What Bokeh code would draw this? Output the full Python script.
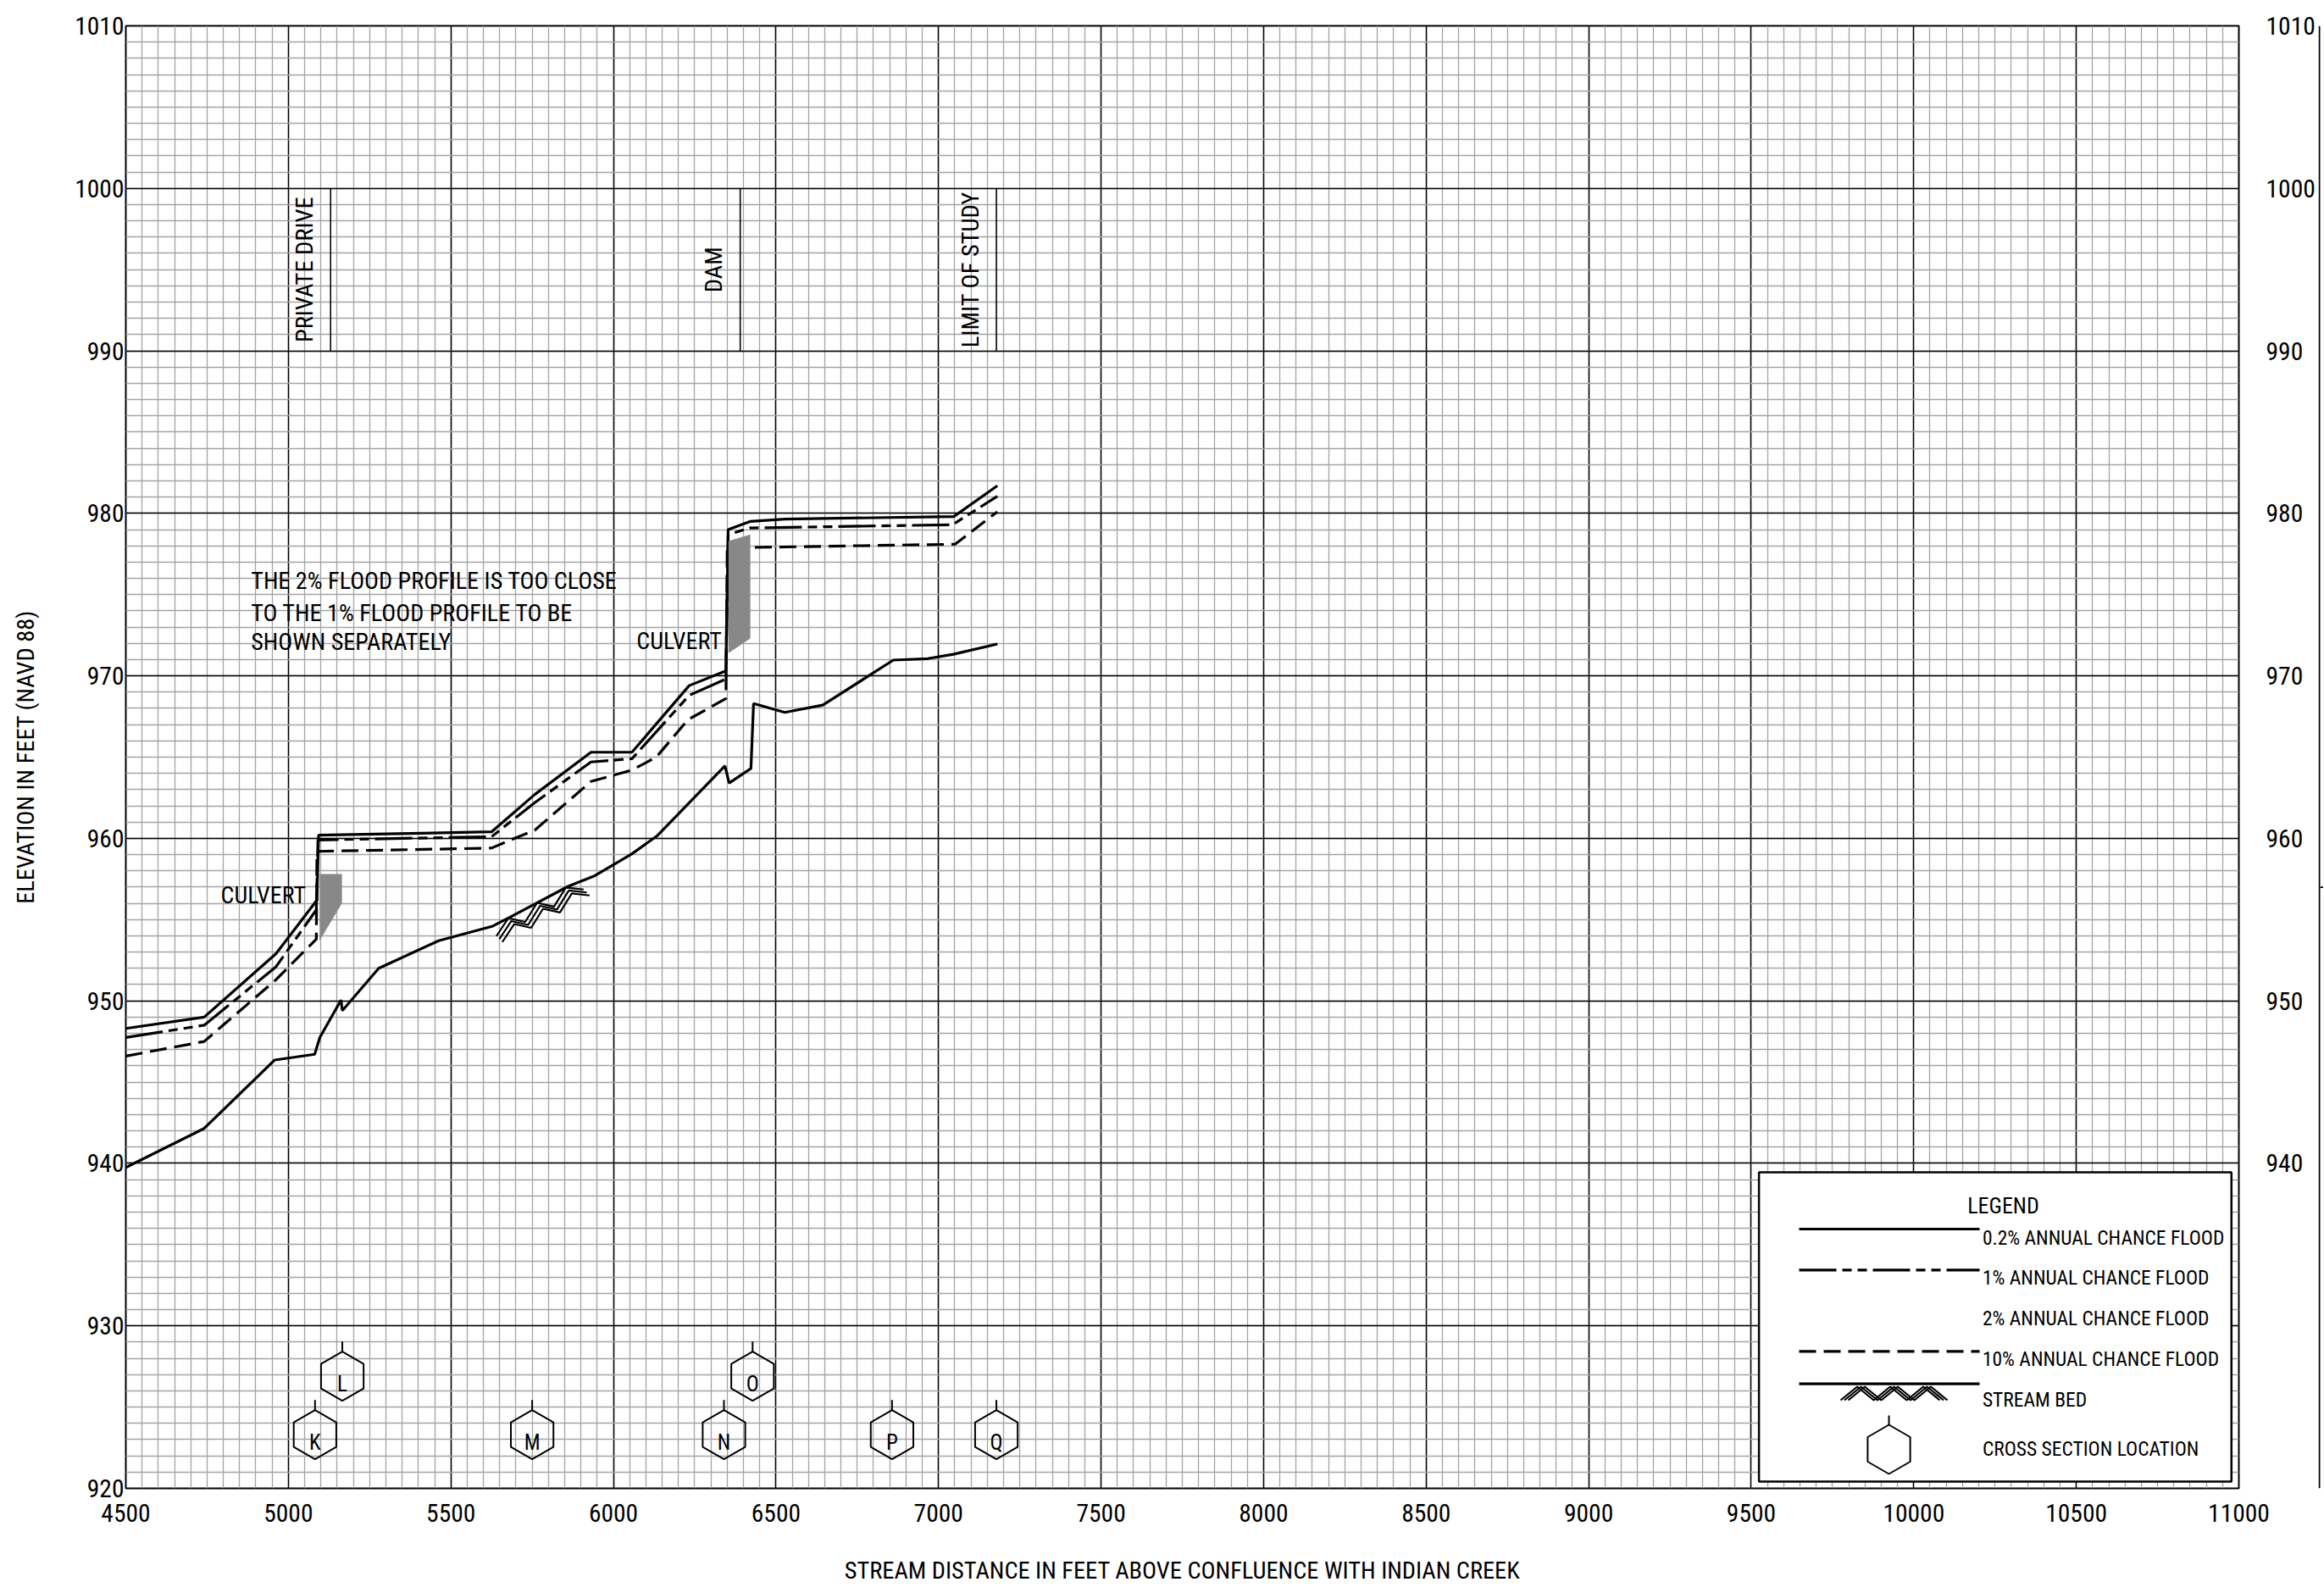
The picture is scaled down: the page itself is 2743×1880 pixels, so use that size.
import numpy as np
from bokeh.plotting import figure
from bokeh.models import Range1d, SingleIntervalTicker, FixedTicker, LinearAxis
from bokeh.layouts import row
from bokeh.core.properties import value
from bokeh.embed import file_html
from bokeh.resources import INLINE

# ---------------- data ----------------
x_tick_interval = 500
y_tick_interval = 10
right_ticks = [940, 950, 960, 970, 980, 990, 1000, 1010]

flood02_x = [4500, 4741, 4962, 5088, 5093, 5625, 5758, 5931, 6057, 6233, 6346, 6353, 6420, 6527, 7047, 7181]
flood02_y = [948.3, 949.0, 952.9, 956.2, 960.2, 960.4, 962.7, 965.3, 965.3, 969.4, 970.3, 979.0, 979.5, 979.65, 979.8, 981.7]

flood1_x = [4500, 4741, 4962, 5086, 5091, 5625, 5758, 5931, 6057, 6233, 6346, 6353, 6420, 7043, 7181]
flood1_y = [947.75, 948.5, 952.1, 955.6, 959.9, 960.1, 962.2, 964.7, 964.9, 968.8, 969.8, 978.7, 979.1, 979.3, 981.05]

flood10_x = [4500, 4741, 4962, 5086, 5088, 5625, 5684, 5758, 5931, 6057, 6132, 6229, 6346, 6350, 6421, 7051, 7181]
flood10_y = [946.6, 947.5, 951.3, 953.8, 959.2, 959.4, 959.9, 960.5, 963.5, 964.2, 965.0, 967.3, 968.6, 978.0, 977.9, 978.1, 980.1]

bed_x = [4500, 4741, 4958, 5081, 5097, 5162, 5166, 5278, 5462, 5629, 5687, 5861, 5943, 6057, 6134,
         6343, 6356, 6423, 6431, 6527, 6644, 6861, 6967, 7046, 7181]
bed_y = [939.75, 942.15, 946.36, 946.71, 947.75, 950.05, 949.4, 952.0, 953.7, 954.6, 955.2, 957.05, 957.7, 959.05, 960.15,
         964.46, 963.4, 964.3, 968.3, 967.75, 968.2, 970.97, 971.06, 971.33, 971.96]

culvert1_x = [5096, 5165, 5165, 5096]
culvert1_y = [957.8, 957.8, 956.0, 953.7]
culvert2_x = [6354, 6421, 6421, 6354]
culvert2_y = [978.3, 978.7, 972.3, 971.4]

struct_names = ["PRIVATE DRIVE", "DAM", "LIMIT OF STUDY"]
struct_x = [5130, 6390, 7178]
struct_y0 = [990, 990, 990]
struct_y1 = [1000, 1000, 1000]

section_labels = ["K", "L", "M", "N", "O", "P", "Q"]
section_x = [5082, 5166, 5750, 6340, 6428, 6857, 7178]
section_y = [923.3, 926.9, 923.3, 923.3, 926.9, 923.3, 923.3]

culvert_labels = ["CULVERT", "CULVERT"]
culvert_label_x = [5054, 6333]
culvert_label_y = [956.5, 972.15]

note_lines = ["THE 2% FLOOD PROFILE IS TOO CLOSE", "TO THE 1% FLOOD PROFILE TO BE", "SHOWN SEPARATELY"]
note_x = [4885, 4885, 4885]
note_y = [975.85, 973.87, 972.1]

legend_labels = ["0.2% ANNUAL CHANCE FLOOD", "1% ANNUAL CHANCE FLOOD", "2% ANNUAL CHANCE FLOOD",
                 "10% ANNUAL CHANCE FLOOD", "STREAM BED", "CROSS SECTION LOCATION"]

hatch_start_x = 5640

# ---------------- layout ----------------
FONT = "Roboto Condensed"
X0, X1 = 4500, 11000
Y0, Y1 = 920, 1010
FW, FH = 2494, 1726
BL, BT, BR, BB = 148, 30, 94, 120
sx = FW / (X1 - X0)
sy = FH / (Y1 - Y0)
PX0 = BL   # page px of the frame's left edge
PY0 = BT   # page px of the frame's top edge
PAGE_H = BT + FH + BB


def fx(X):  # page px -> data x
    return X0 + (X - PX0) / sx


def fy(Y):  # page px -> data y
    return Y1 - (Y - PY0) / sy


def px_x(xd):
    return PX0 + (xd - X0) * sx


def px_y(yd):
    return PY0 + (Y1 - yd) * sy


p = figure(frame_width=FW, frame_height=FH,
           min_border_left=BL, min_border_right=BR, min_border_top=BT, min_border_bottom=BB,
           x_range=Range1d(X0, X1), y_range=Range1d(Y0, Y1),
           output_backend="svg", toolbar_location=None,
           x_axis_label="STREAM DISTANCE IN FEET ABOVE CONFLUENCE WITH INDIAN CREEK",
           y_axis_label="ELEVATION IN FEET (NAVD 88)")
p.background_fill_color = "white"
p.border_fill_color = "white"
p.outline_line_color = "black"
p.outline_line_width = 2

xt = SingleIntervalTicker(interval=x_tick_interval, num_minor_ticks=10)
yt = SingleIntervalTicker(interval=y_tick_interval, num_minor_ticks=10)
p.xaxis.ticker = xt
p.yaxis.ticker = yt
p.xgrid.ticker = xt
p.ygrid.ticker = yt
for g in (p.xgrid, p.ygrid):
    g.grid_line_color = "black"
    g.grid_line_width = 1.5
    g.minor_grid_line_color = "#a4a4a4"
    g.minor_grid_line_width = 1.3

ra = LinearAxis(ticker=FixedTicker(ticks=right_ticks))
p.add_layout(ra, "right")

for ax in p.axis:
    ax.axis_line_color = None
    ax.major_tick_out = 0
    ax.major_tick_in = 0
    ax.minor_tick_out = 0
    ax.minor_tick_in = 0
    ax.major_label_text_font = FONT
    ax.major_label_text_font_size = "29.5px"
    ax.major_label_text_color = "black"
    ax.axis_label_text_font = FONT
    ax.axis_label_text_font_size = "28.4px"
    ax.axis_label_text_font_style = "normal"
    ax.axis_label_text_color = "black"

p.yaxis[0].major_label_standoff = 2
p.yaxis[0].axis_label_standoff = 38
p.xaxis[0].major_label_standoff = 18
p.xaxis[0].axis_label_standoff = 38
ra.major_label_standoff = 32

# ---------------- profiles ----------------
LW = 3.2
DASH_1 = "44 7 11 7 11 7"
DASH_10 = "20 9"
p.line(flood02_x, flood02_y, line_color="black", line_width=LW)
p.line(flood1_x, flood1_y, line_color="black", line_width=LW, line_dash=DASH_1)
p.line(flood10_x, flood10_y, line_color="black", line_width=LW, line_dash=DASH_10)
p.line(bed_x, bed_y, line_color="black", line_width=LW)

p.patch(culvert1_x, culvert1_y, fill_color="#888888", line_color=None)
p.patch(culvert2_x, culvert2_y, fill_color="#888888", line_color=None)

# stream bed hatch (sawtooth with triple strokes) following the bed
tooth = [(0, 14), (14, 0), (34, 15), (48, 0), (68, 15), (82, 0), (103, 11)]
hx0 = px_x(hatch_start_x)
hxs, hys = [], []
for k in range(3):
    xs, ys = [], []
    for dx, depth in tooth:
        X = hx0 + dx
        ly = px_y(np.interp(fx(X), bed_x, bed_y))
        xs.append(fx(X + 3.5 * k))
        ys.append(fy(ly + depth + 3.5 * k))
    hxs.append(xs)
    hys.append(ys)
p.multi_line(hxs, hys, line_color="black", line_width=2.2)

# structures
for name, x, y0, y1 in zip(struct_names, struct_x, struct_y0, struct_y1):
    p.segment(x0=[x], y0=[y0], x1=[x], y1=[y1], line_color="black", line_width=1.6)
p.text(x=[fx(px_x(x) - 31) for x in struct_x], y=[(a + b) / 2 for a, b in zip(struct_y0, struct_y1)],
       text=struct_names, angle=np.pi / 2, text_align="center", text_baseline="alphabetic",
       text_font=value(FONT), text_font_size="28.5px", text_color="black")

# labels
p.text(x=culvert_label_x, y=culvert_label_y, text=culvert_labels, text_align="right",
       text_baseline="alphabetic", text_font=value(FONT), text_font_size="28px", text_color="black")
p.text(x=note_x, y=note_y, text=note_lines, text_align="left",
       text_baseline="alphabetic", text_font=value(FONT), text_font_size="28.2px", text_color="black")

# cross sections
HEX = 58
p.scatter(section_x, section_y, marker="hex", size=HEX, angle=np.pi / 2,
          fill_color=None, line_color="black", line_width=2)
p.segment(x0=section_x, y0=[y + (HEX / 2) / sy for y in section_y],
          x1=section_x, y1=[y + (HEX / 2 + 12) / sy for y in section_y],
          line_color="black", line_width=2)
p.text(x=section_x, y=[y - 9 / sy for y in section_y], text=section_labels, text_align="center",
       text_baseline="alphabetic", text_font=value(FONT), text_font_size="25px", text_color="black")

# ---------------- legend (drawn inside the plot) ----------------
p.quad(left=[fx(2075.6)], right=[fx(2633.3)], top=[fy(1383)], bottom=[fy(1748)],
       fill_color="white", line_color="black", line_width=2.5)
p.text(x=[fx(2364)], y=[fy(1422.3)], text=["LEGEND"], text_align="center", text_baseline="alphabetic",
       text_font=value(FONT), text_font_size="26px", text_color="black")
lx0, lx1 = fx(2123), fx(2336)
p.line([lx0, lx1], [fy(1450)] * 2, line_color="black", line_width=LW)
p.line([lx0, lx1], [fy(1498.3)] * 2, line_color="black", line_width=LW, line_dash=DASH_1)
p.line([lx0, lx1], [fy(1594.3)] * 2, line_color="black", line_width=LW, line_dash=DASH_10)
p.line([lx0, lx1], [fy(1632.7)] * 2, line_color="black", line_width=LW)
zig_px = [(2172, 1652), (2191.5, 1636), (2211, 1652), (2230.5, 1636), (2250, 1652), (2269.5, 1636), (2289, 1652)]
p.multi_line([[fx(X + 4.5 * k) for X, _ in zig_px] for k in range(3)],
             [[fy(Y) for _, Y in zig_px] for k in range(3)], line_color="black", line_width=2.2)
p.scatter([fx(2229)], [fy(1710)], marker="hex", size=HEX, angle=np.pi / 2,
          fill_color=None, line_color="black", line_width=2)
p.segment(x0=[fx(2229)], y0=[fy(1681)], x1=[fx(2229)], y1=[fy(1670)], line_color="black", line_width=2)
leg_base = [1460.2, 1507.5, 1555.9, 1603.5, 1651.9, 1709.2]
p.text(x=[fx(2339.4)] * len(legend_labels), y=[fy(Y) for Y in leg_base], text=legend_labels,
       text_align="left", text_baseline="alphabetic", text_font=value(FONT), text_font_size="23.5px",
       text_color="black")

# ---------------- page edge strip (sheet border on the right) ----------------
EW = 6
edge = figure(width=EW, height=PAGE_H, min_border=0, x_range=Range1d(0, EW), y_range=Range1d(PAGE_H, 0),
              x_axis_type=None, y_axis_type=None, output_backend="svg", toolbar_location=None)
edge.outline_line_color = None
edge.background_fill_color = "white"
edge.border_fill_color = "white"
edge.xgrid.visible = False
edge.ygrid.visible = False
edge.quad(left=[0], right=[2], top=[0], bottom=[PAGE_H], fill_color="black", line_color=None)
edge.quad(left=[2], right=[EW], top=[1104], bottom=[1106], fill_color="black", line_color=None)

layout = row(p, edge)
open("out.html", "w").write(file_html(layout, INLINE, title="Flood profile"))
